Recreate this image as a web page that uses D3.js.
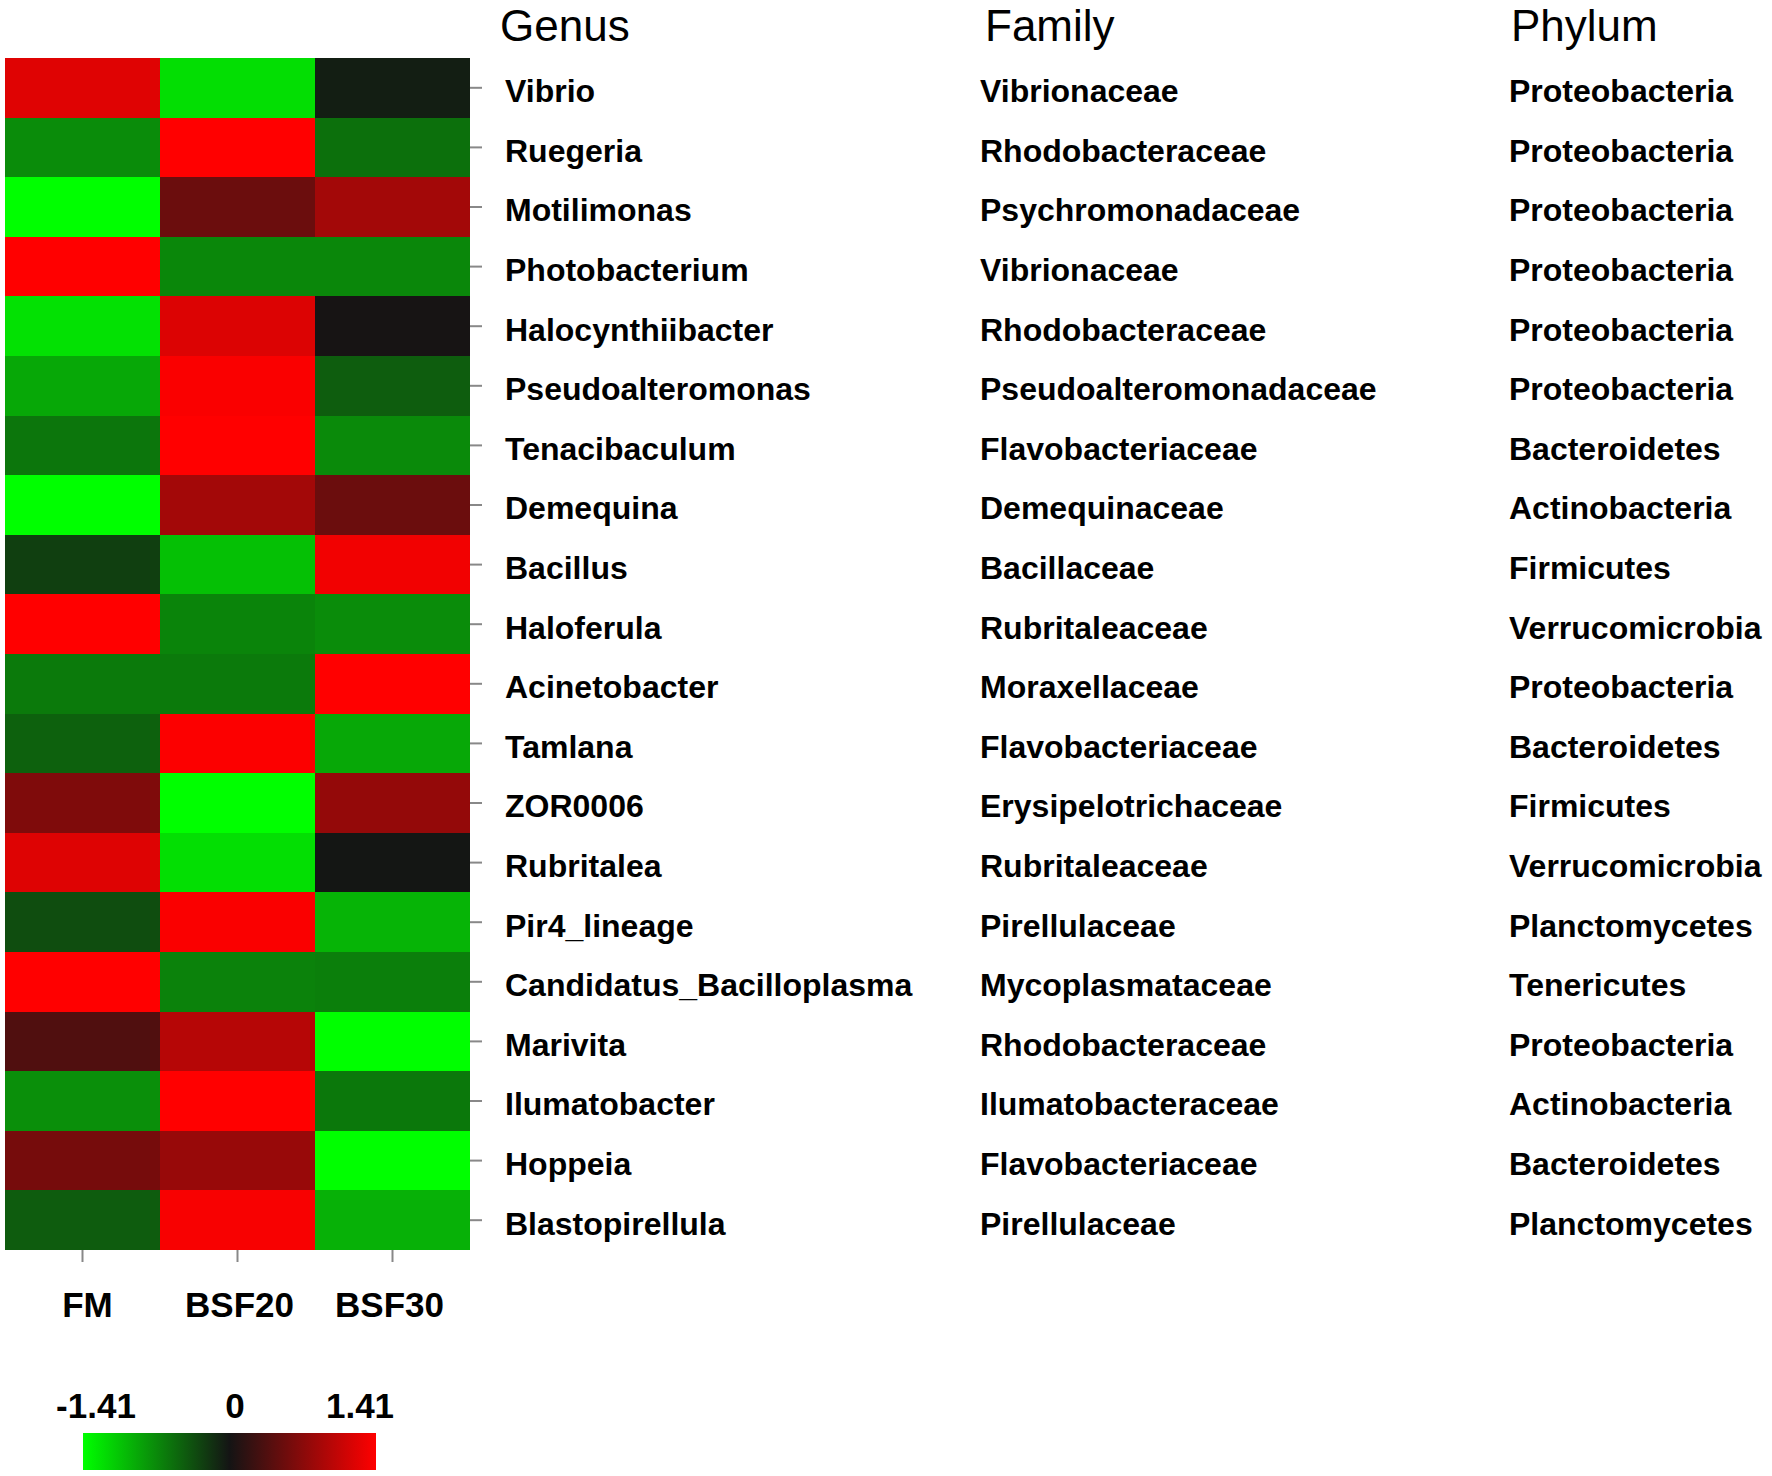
<!DOCTYPE html>
<html>
<head>
<meta charset="utf-8">
<script src="https://cdn.jsdelivr.net/npm/d3@7"></script>
<style>
  body { margin: 0; background: #fff; }
  svg { font-family: "Liberation Sans", Arial, sans-serif; }
  .tick line { stroke: #888; stroke-width: 2; }
</style>
</head>
<body>
<svg width="1772" height="1476"></svg>
<script>
// groups (columns of the heatmap)
const groups = ['FM', 'BSF20', 'BSF30']

const genus = ['Vibrio', 'Ruegeria', 'Motilimonas', 'Photobacterium', 'Halocynthiibacter',
  'Pseudoalteromonas', 'Tenacibaculum', 'Demequina', 'Bacillus', 'Haloferula',
  'Acinetobacter', 'Tamlana', 'ZOR0006', 'Rubritalea', 'Pir4_lineage',
  'Candidatus_Bacilloplasma', 'Marivita', 'Ilumatobacter', 'Hoppeia', 'Blastopirellula']

const family = ['Vibrionaceae', 'Rhodobacteraceae', 'Psychromonadaceae', 'Vibrionaceae', 'Rhodobacteraceae',
  'Pseudoalteromonadaceae', 'Flavobacteriaceae', 'Demequinaceae', 'Bacillaceae', 'Rubritaleaceae',
  'Moraxellaceae', 'Flavobacteriaceae', 'Erysipelotrichaceae', 'Rubritaleaceae', 'Pirellulaceae',
  'Mycoplasmataceae', 'Rhodobacteraceae', 'Ilumatobacteraceae', 'Flavobacteriaceae', 'Pirellulaceae']

const phylum = ['Proteobacteria', 'Proteobacteria', 'Proteobacteria', 'Proteobacteria', 'Proteobacteria',
  'Proteobacteria', 'Bacteroidetes', 'Actinobacteria', 'Firmicutes', 'Verrucomicrobia',
  'Proteobacteria', 'Bacteroidetes', 'Firmicutes', 'Verrucomicrobia', 'Planctomycetes',
  'Tenericutes', 'Proteobacteria', 'Actinobacteria', 'Bacteroidetes', 'Planctomycetes']

// z-scores per genus, one array per group
const fmValues = [1.22, -0.72, -1.41, 1.41, -1.23, -0.89, -0.59, -1.41, -0.26, 1.41,
  -0.61, -0.46, 0.64, 1.21, -0.34, 1.41, 0.36, -0.74, 0.59, -0.43]
const bsf20Values = [-1.21, 1.41, 0.52, -0.69, 1.20, 1.38, 1.41, 0.86, -1.03, -0.67,
  -0.61, 1.39, -1.41, -1.22, 1.38, -0.66, 0.97, 1.41, 0.79, 1.37]
const bsf30Values = [-0.06, -0.55, 0.86, -0.69, 0.02, -0.44, -0.71, 0.52, 1.33, -0.72,
  1.41, -0.89, 0.77, -0.01, -0.96, -0.64, -1.41, -0.60, -1.41, -0.94]

const legendTicks = [-1.41, 0, 1.41]
const headers = ['Genus', 'Family', 'Phylum']

const svg = d3.select('svg')

let cells = []
let series = [fmValues, bsf20Values, bsf30Values]
genus.forEach((g, i) => {
  groups.forEach((grp, j) => cells.push({ genus: g, group: grp, value: series[j][i] }))
})

/* scales */
let xScale = d3.scaleBand().domain(groups).range([5, 470])
let yScale = d3.scaleBand().domain(genus).range([58, 1250])
let colorScale = d3.scaleLinear()
  .domain([-1.41, 0, 1.41])
  .range(['#00ff00', '#141414', '#ff0000'])
  .clamp(true)

/* heatmap cells */
svg.append('g')
  .selectAll('rect')
  .data(cells)
  .enter()
  .append('rect')
    .attr('x', d => xScale(d.group))
    .attr('y', d => yScale(d.genus))
    .attr('width', xScale.bandwidth())
    .attr('height', yScale.bandwidth())
    .attr('fill', d => colorScale(d.value))
    .attr('shape-rendering', 'crispEdges')

/* right axis with genus names */
let yAxis = d3.axisRight(yScale).tickSize(12).tickPadding(23).tickSizeOuter(0)
let gy = svg.append('g')
  .attr('transform', 'translate(470, 0)')
  .call(yAxis)
gy.select('.domain').remove()
gy.selectAll('text')
  .attr('fill', '#000')
  .attr('dy', '0.45em')
  .style('font-size', '32px')
  .style('font-weight', 'bold')

/* family and phylum columns */
let extraCols = [{ x: 980, labels: family }, { x: 1509, labels: phylum }]
extraCols.forEach(col => {
  svg.append('g')
    .selectAll('text')
    .data(genus)
    .enter()
    .append('text')
      .attr('x', col.x)
      .attr('y', d => yScale(d) + yScale.bandwidth() / 2)
      .attr('dy', '0.45em')
      .style('font-size', '32px')
      .style('font-weight', 'bold')
      .text((d, i) => col.labels[i])
})

/* column headers */
svg.append('g')
  .selectAll('text')
  .data(headers)
  .enter()
  .append('text')
    .attr('x', (d, i) => [500, 985, 1511][i])
    .attr('y', 41)
    .style('font-size', '44px')
    .text(d => d)

/* bottom axis with group names */
let xAxis = d3.axisBottom(xScale).tickSize(12).tickPadding(30).tickSizeOuter(0)
let gx = svg.append('g')
  .attr('transform', 'translate(0, 1250)')
  .call(xAxis)
gx.select('.domain').remove()
gx.selectAll('text')
  .attr('fill', '#000')
  .attr('dx', (d, i) => [5, 2, -3][i])
  .style('font-size', '35px')
  .style('font-weight', 'bold')

/* colour key */
let defs = svg.append('defs')
let grad = defs.append('linearGradient').attr('id', 'key')
grad.selectAll('stop')
  .data(legendTicks)
  .enter()
  .append('stop')
    .attr('offset', (d, i) => `${i * 50}%`)
    .attr('stop-color', d => colorScale(d))

svg.append('rect')
  .attr('x', 83)
  .attr('y', 1433)
  .attr('width', 293)
  .attr('height', 37)
  .attr('fill', 'url(#key)')

let keyScale = d3.scaleLinear().domain([-1.41, 0, 1.41]).range([96, 235, 360])
svg.append('g')
  .selectAll('text')
  .data(legendTicks)
  .enter()
  .append('text')
    .attr('x', d => keyScale(d))
    .attr('y', 1418)
    .attr('text-anchor', 'middle')
    .style('font-size', '35px')
    .style('font-weight', 'bold')
    .text(d => d)
</script>
</body>
</html>
